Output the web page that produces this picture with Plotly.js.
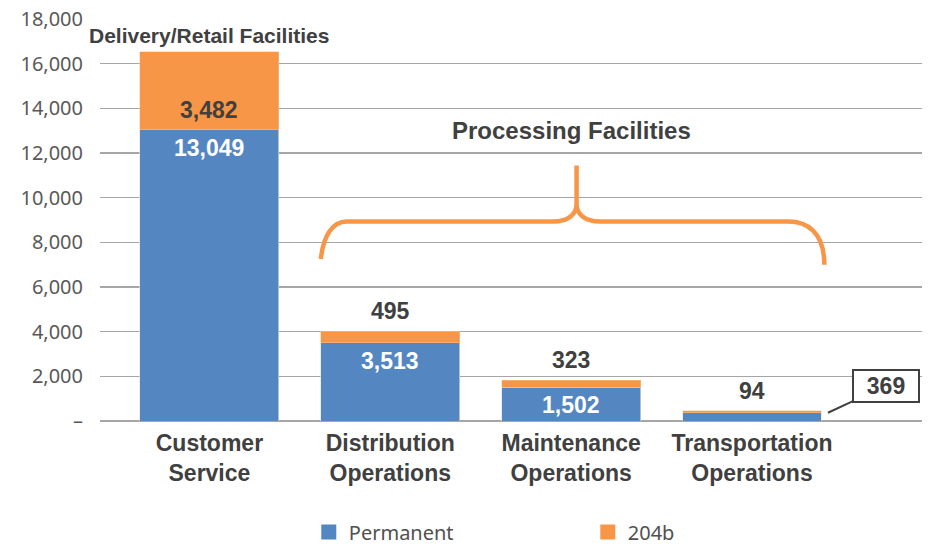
<!DOCTYPE html>
<html>
<head>
<meta charset="utf-8">
<script src="https://cdn.plot.ly/plotly-3.0.1.min.js"></script>
<style>html,body{margin:0;padding:0;background:#fff;}#chart{width:936px;height:547px;}</style>
</head>
<body>
<div id="chart"></div>
<script>
const categories = ["Customer<br>Service", "Distribution<br>Operations", "Maintenance<br>Operations", "Transportation<br>Operations"];
const permanent = [13049, 3513, 1502, 369];
const temp204b = [3482, 495, 323, 94];
const seriesNames = ["Permanent", "204b"];
const yTickVals = [0, 2000, 4000, 6000, 8000, 10000, 12000, 14000, 16000, 18000];
const yTickText = ["–", "2,000", "4,000", "6,000", "8,000", "10,000", "12,000", "14,000", "16,000", "18,000"];

const xpos = categories.map((c, i) => i);
const fmt = v => v.toLocaleString("en-US");
const BLUE = "#5486c2", ORANGE = "#f79646", DARK = "#404040";
const BW = 0.768;
const ARIAL = "Liberation Sans, Arial, sans-serif";

const traces = [
  {type: "bar", name: seriesNames[0], x: xpos, y: permanent, width: BW, showlegend: false,
   marker: {color: BLUE, line: {color: "rgba(225,225,225,0.8)", width: 0.8}}, hoverinfo: "skip"},
  {type: "bar", name: seriesNames[1], x: xpos, y: temp204b, width: BW, showlegend: false,
   marker: {color: ORANGE, line: {color: "rgba(240,200,160,0.8)", width: 0.6}}, hoverinfo: "skip"},
  {type: "scatter", mode: "markers", name: seriesNames[0], x: [null], y: [null],
   marker: {symbol: "square", size: 15, color: BLUE}, hoverinfo: "skip"},
  {type: "scatter", mode: "markers", name: seriesNames[1], x: [null], y: [null],
   marker: {symbol: "square", size: 15, color: ORANGE}, hoverinfo: "skip"}
];

const labelFont = (c) => ({family: ARIAL, size: 23, color: c});
const annotations = [];
xpos.forEach((x, i) => {
  const total = permanent[i] + temp204b[i];
  if (i === 0) {
    annotations.push({x: x, y: permanent[i], xref: "x", yref: "y", text: "<b>" + fmt(temp204b[i]) + "</b>",
      showarrow: false, yanchor: "bottom", yshift: 5, font: labelFont(DARK)});
  } else {
    annotations.push({x: x, y: total, xref: "x", yref: "y", text: "<b>" + fmt(temp204b[i]) + "</b>",
      showarrow: false, yanchor: "bottom", yshift: 5, font: labelFont(DARK)});
  }
  if (i < 3) {
    annotations.push({x: x, y: permanent[i], xref: "x", yref: "y", text: "<b>" + fmt(permanent[i]) + "</b>",
      showarrow: false, yanchor: "top", yshift: -3, font: labelFont("#ffffff")});
  } else {
    annotations.push({x: x + 0.42, y: permanent[i], xref: "x", yref: "y", text: "<b>" + fmt(permanent[i]) + "</b>",
      showarrow: true, arrowhead: 0, arrowwidth: 2, arrowcolor: DARK, ax: 58, ay: -27,
      bordercolor: DARK, borderwidth: 2, borderpad: 2, bgcolor: "#ffffff",
      width: 60, font: labelFont(DARK)});
  }
});
annotations.push({x: 0, y: 1, xref: "x", yref: "paper", yanchor: "top", yshift: -3, showarrow: false,
  text: "<b>Delivery/Retail Facilities</b>", font: {family: ARIAL, size: 21, color: DARK}});
annotations.push({x: 2.0, y: 12300, xref: "x", yref: "y", yanchor: "bottom", showarrow: false,
  text: "<b>Processing Facilities</b>", font: {family: ARIAL, size: 24, color: DARK}});

// curly brace over processing facilities (decoration)
const brace = "M 0.616,7255 C 0.63,8300 0.68,8930 0.76,8930 L 1.90,8930 C 1.99,8930 2.03,9300 2.03,9700 L 2.03,11442 " +
              "M 2.03,9700 C 2.03,9300 2.07,8930 2.16,8930 L 3.20,8930 C 3.30,8930 3.40,8500 3.40,7000";

const layout = {
  width: 936, height: 547,
  margin: {l: 100, r: 14, t: 19, b: 126, autoexpand: false},
  paper_bgcolor: "#ffffff", plot_bgcolor: "#ffffff",
  barmode: "stack",
  showlegend: true,
  legend: {orientation: "h", x: 0.254, xanchor: "left", y: -0.276, yanchor: "middle",
    entrywidth: 234, entrywidthmode: "pixels", traceorder: "normal", itemsizing: "trace",
    tracegroupgap: 0, borderwidth: 0,
    font: {family: "Noto Sans, Open Sans, sans-serif", size: 20, color: "#505050"}},
  xaxis: {range: [-0.605, 3.94], tickvals: xpos, ticktext: categories.map(c => "<b>" + c + "</b>"),
    showgrid: false, zeroline: false, showline: false, ticks: "", automargin: false, ticklabelstandoff: 6,
    tickfont: {family: ARIAL, size: 23, color: DARK}, fixedrange: true},
  yaxis: {range: [0, 18000], tickvals: yTickVals, ticktext: yTickText, automargin: false,
    showgrid: true, gridcolor: "#a6a6a6", gridwidth: 1.2, zeroline: true, zerolinecolor: "#a6a6a6", zerolinewidth: 1.2,
    showline: false, ticks: "", ticklabelstandoff: 16,
    tickfont: {family: "Noto Sans, Open Sans, sans-serif", size: 20, color: "#595959"}, fixedrange: true},
  annotations: annotations,
  shapes: [{type: "path", xref: "x", yref: "y", path: brace,
    line: {color: ORANGE, width: 4.5}, layer: "above"}]
};

Plotly.newPlot("chart", traces, layout, {displayModeBar: false, staticPlot: true});
</script>
</body>
</html>
